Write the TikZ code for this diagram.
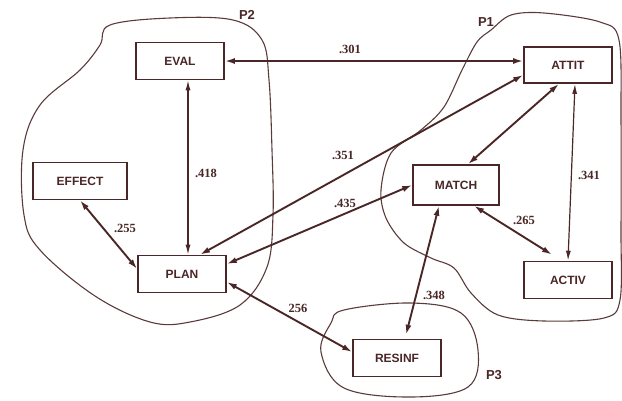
\documentclass[tikz,border=0pt]{standalone}
\usepackage{fontspec}
\setmainfont{Liberation Serif}
\setsansfont{Liberation Sans}
\usetikzlibrary{arrows.meta}
\definecolor{ink}{HTML}{4A2626}
\definecolor{blobc}{HTML}{5A3A3A}
\begin{document}
\begin{tikzpicture}[x=1pt,y=-1pt,
  box/.style={draw=ink,line width=1.6pt,minimum width=88pt,minimum height=37pt,
    font=\sffamily\bfseries\fontsize{12}{14}\selectfont,text=ink,inner sep=0pt},
  lab/.style={font=\bfseries\fontsize{12.5}{14}\selectfont,text=ink,inner sep=0pt},
  plab/.style={font=\sffamily\bfseries\fontsize{13}{15}\selectfont,text=ink,inner sep=0pt},
  thk/.style={draw=ink,line width=1.9pt,{Latex[length=10pt,width=6pt]}-{Latex[length=10pt,width=6pt]}},
  thn/.style={draw=ink,line width=1.2pt,{Latex[length=10pt,width=5pt]}-{Latex[length=10pt,width=5pt]}},
  blob/.style={draw=blobc,line width=1.1pt}]
\useasboundingbox (0,0) rectangle (622,400);
% blobs
\draw[blob] plot[smooth cycle,tension=0.6] coordinates{
 (110,25) (170,18) (233,20) (262,40) (269,80) (272,150) (273,215) (267,267)
 (240,305) (190,322) (150,322) (95,296) (40,250) (24,215) (23,150) (40,105) (80,70) (100,45)};
\draw[blob] plot[smooth cycle,tension=0.55] coordinates{
 (491,30) (511,15) (544,13) (600,22) (619,40) (621,120) (621,230) (620,300) (604,318)
 (544,321) (498,315) (471,293) (454,268) (431,258) (404,243) (386,218) (381,190)
 (391,153) (421,130) (444,107) (462,70) (477,42)};
\draw[blob] plot[smooth cycle,tension=0.6] coordinates{
 (344,310) (411,303) (461,313) (478,350) (468,387) (411,397) (344,388) (321,352) (331,323)};
% nodes
\node[box] (eval) at (180,61) {EVAL};
\node[box,minimum width=94pt] (effect) at (80,181) {EFFECT};
\node[box] (plan) at (182,274) {PLAN};
\node[box,minimum height=36pt] (attit) at (568,65) {ATTIT};
\node[box,minimum height=40pt,minimum width=86pt] (match) at (456,185) {MATCH};
\node[box] (activ) at (568,280) {ACTIV};
\node[box] (resinf) at (397,358) {RESINF};
% region labels
\node[plab] (p2) at (247,15) {P2};
\node[plab] (p1) at (486,22) {P1};
\node[plab] (p3) at (494,375) {P3};
% connectors
\draw[thk] (eval.east) -- (eval.east -| attit.west);
\draw[thn] ([xshift=8pt]eval.south) -- ([xshift=6pt]plan.north);
\draw[thn] ([xshift=7pt]attit.south) -- (activ.north);
\draw[thk] ([yshift=-10pt]attit.west) -- ([xshift=18pt]plan.north);
\draw[thk] (match.west) -- ([yshift=10pt]plan.east);
\draw[thk] (effect.south) -- ([yshift=5pt]plan.west);
\draw[thk] ([yshift=-8pt]plan.east) -- ([yshift=6pt]resinf.west);
\draw[thk] ([xshift=12pt]match.north) -- ([xshift=-9pt]attit.south);
\draw[thk] ([xshift=18pt]match.south) -- ([xshift=-16pt,yshift=6pt]activ.north);
\draw[thk] ([xshift=-17pt]match.south) -- ([xshift=9pt,yshift=4pt]resinf.north);
% edge labels
\node[lab] (l301) at (350,49) {.301};
\node[lab] (l418) at (206,173) {.418};
\node[lab] (l351) at (343,155) {.351};
\node[lab] (l435) at (345,203) {.435};
\node[lab] (l255) at (125,228) {.255};
\node[lab] (l256) at (298,308) {256};
\node[lab] (l348) at (434,295) {.348};
\node[lab] (l265) at (524,220) {.265};
\node[lab] (l341) at (589,175) {.341};
\end{tikzpicture}
\end{document}
